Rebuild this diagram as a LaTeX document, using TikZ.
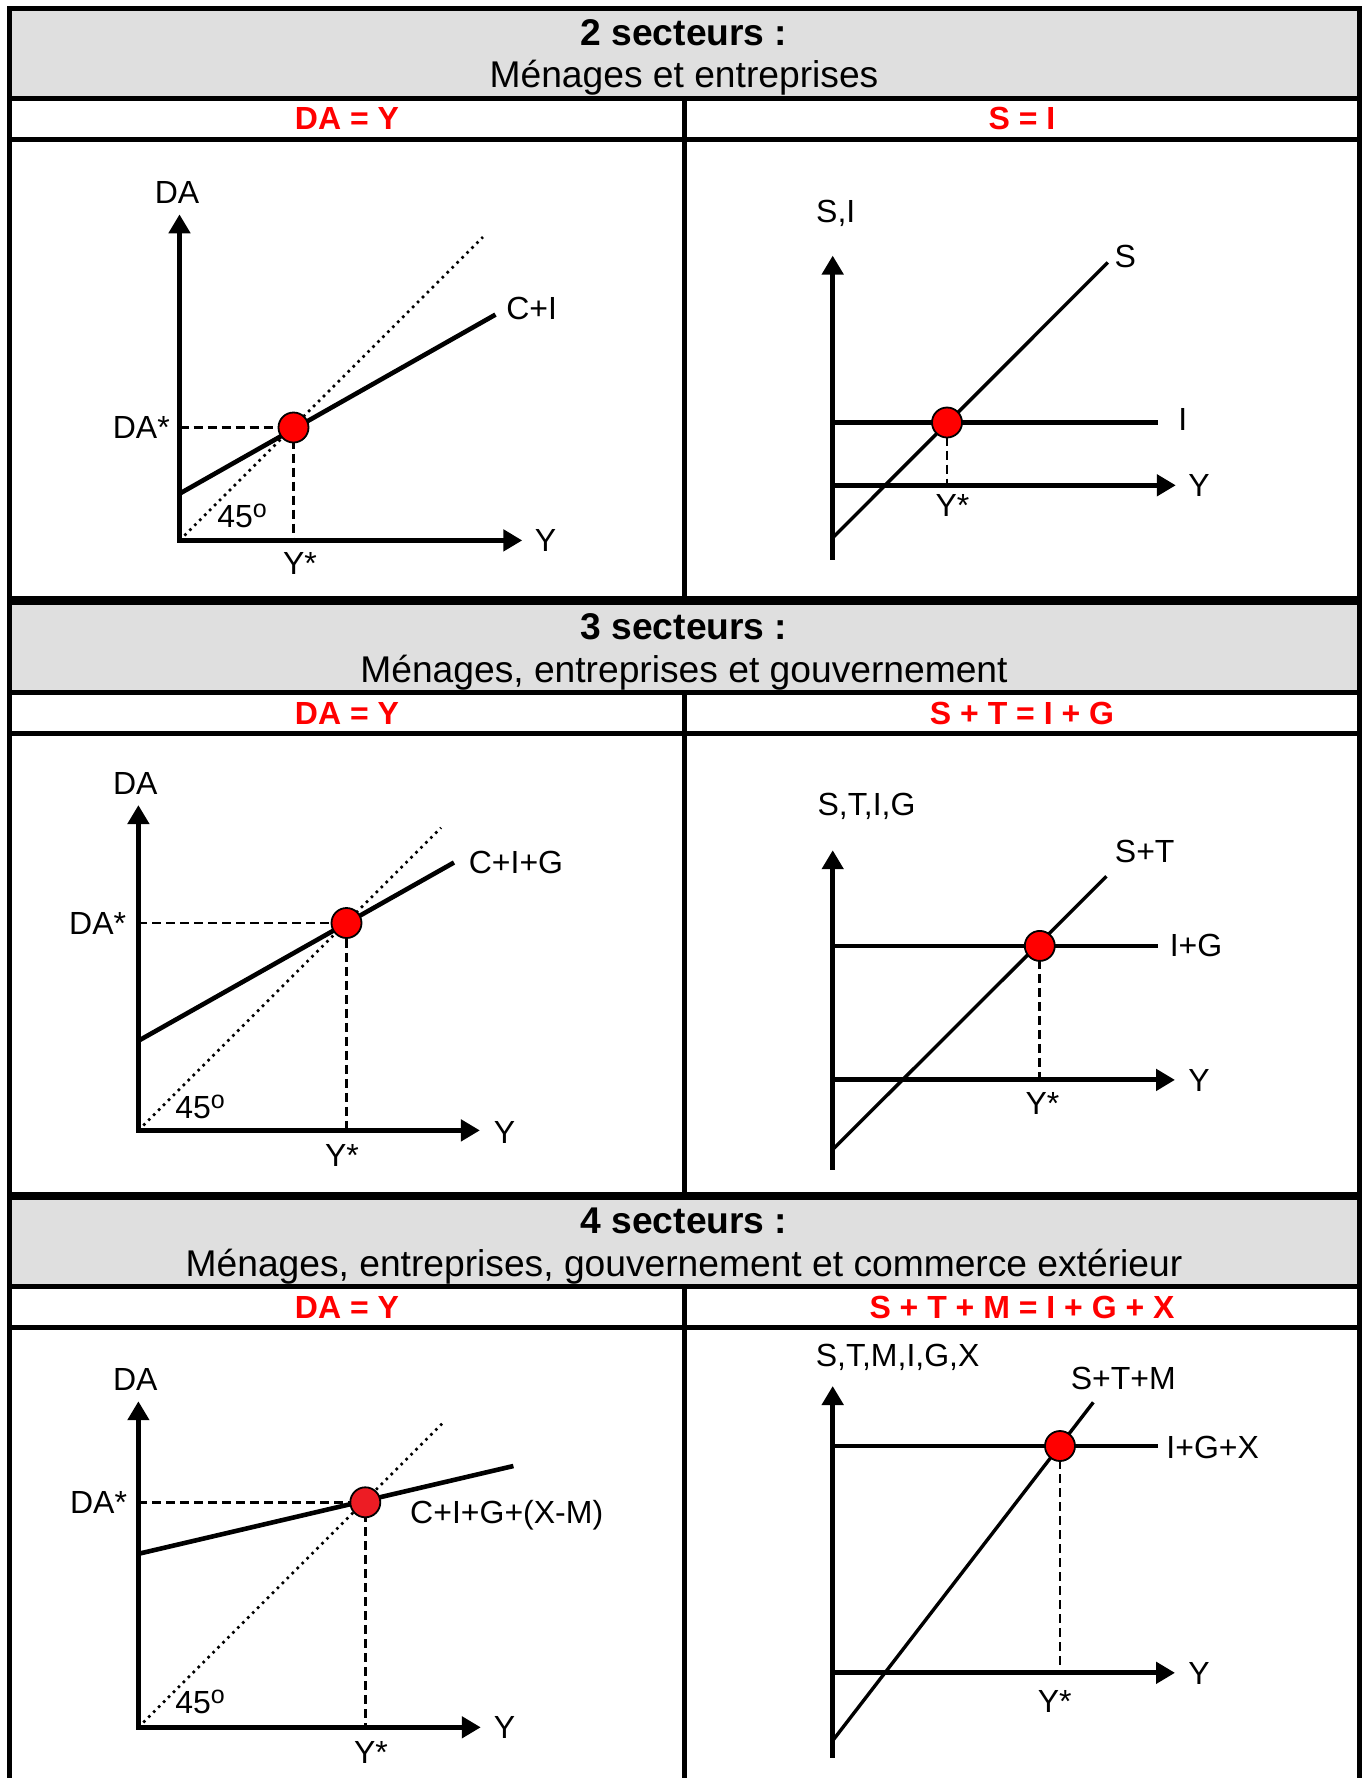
\documentclass[tikz,border=0pt]{standalone}
\usepackage{fontspec}
\setmainfont{Liberation Sans}
\usetikzlibrary{arrows.meta}
\definecolor{grisentete}{RGB}{223,223,223}
\definecolor{rougeeq}{RGB}{255,0,0}
\definecolor{rougept}{RGB}{237,28,36}
\newcommand{\degres}{45\raisebox{10pt}{\fontsize{25}{25}\selectfont o}}

\begin{document}
\begin{tikzpicture}[x=1pt,y=-1pt,>={Triangle[length=19pt,width=21pt]},
  every node/.style={inner sep=0pt,anchor=base,font=\fontsize{32}{38}\selectfont},
  entete/.style={font=\fontsize{37.2}{44}\selectfont},
  equation/.style={font=\fontsize{32}{38}\selectfont\bfseries,text=rougeeq},
  cadre/.style={line width=4.8pt},
  axe/.style={line width=5pt},
  courbe/.style={line width=4.6pt},
  epargne/.style={line width=3.4pt},
  repere/.style={line width=2.7pt,dash pattern=on 9pt off 5pt},
  bis/.style={line width=2.6pt,dash pattern=on 2.6pt off 4.4pt},
  point/.style={circle,draw,line width=1.8pt,fill=red,minimum size=30pt,anchor=center}]
  \useasboundingbox (0,0) rectangle (1368,1778);

  % en-tetes des trois tableaux
  \foreach \k/\haut/\gris/\bas/\titre/\sous/\eqd in {
    1/8.3/98.2/600.5/{2 secteurs :}/{Ménages et entreprises}/{S = I},
    2/600.5/692.8/1195.8/{3 secteurs :}/{Ménages, entreprises et gouvernement}/{S + T = I + G},
    3/1195.8/1286.5/1778/{4 secteurs :}/{Ménages, entreprises, gouvernement et commerce extérieur}/{S + T + M = I + G + X}}{
    \fill[grisentete] (9.3,\haut) rectangle (1359.7,\gris);
    \draw[cadre] (9.3,\gris) -- (1359.7,\gris);
    \draw[cadre] (9.3,\gris+41) -- (1359.7,\gris+41);
    \draw[cadre] (684.5,\gris) -- (684.5,\bas);
    \node[entete] (titre\k) at (684,\gris-53) {\bfseries \titre};
    \node[entete] (sous\k) at (684,\gris-10.5) {\sous};
    \node[equation] (eqg\k) at (347,\gris+31.5) {DA = Y};
    \node[equation] (eqd\k) at (1022,\gris+31.5) {\eqd};
  }
  \draw[line width=8.5pt] (9.3,600.5) -- (1359.7,600.5);
  \draw[line width=8.5pt] (9.3,1195.8) -- (1359.7,1195.8);
  \draw[cadre,line join=miter] (9.3,1778) -- (9.3,8.3) -- (1359.7,8.3) -- (1359.7,1778);

  % 2 secteurs : DA = Y
  \coordinate (o1) at (179.5,540.4);
  \coordinate (da1) at (179.5,214.3);
  \coordinate (y1) at (522.3,540.4);
  \coordinate (c1a) at (179.5,493.7);
  \coordinate (c1b) at (495.5,314.6);
  \coordinate (b1) at (483,237);
  \coordinate (e1) at (293.5,427.5);
  \coordinate (h1) at (179.5,427.5);
  \coordinate (v1) at (293.5,540.4);
  \draw[bis] (o1) -- (b1);
  \draw[repere] (h1) -- (e1) -- (v1);
  \draw[courbe] (c1a) -- (c1b);
  \draw[axe,<->] (y1) -- (o1) -- (da1);
  \node[point] (p1) at (e1) {};
  \node (lda1) at (177,203) {DA};
  \node (ly1) at (545.5,551) {Y};
  \node (lc1) at (531.7,319.6) {C+I};
  \node[anchor=base east] (lds1) at (170,438) {DA*};
  \node (lys1) at (300,574) {Y*};
  \node (lan1) at (242,527.4) {\degres};

  % 2 secteurs : S = I
  \coordinate (r1b) at (832.7,559.5);
  \coordinate (r1h) at (832.7,255.6);
  \coordinate (r1o) at (832.7,485.3);
  \coordinate (r1y) at (1175.8,485.3);
  \coordinate (i1a) at (832.7,422.5);
  \coordinate (i1b) at (1158.3,422.5);
  \coordinate (s1a) at (832.7,537.7);
  \coordinate (s1b) at (1107.8,262.5);
  \coordinate (e2) at (947,422.5);
  \coordinate (v2) at (947,485.3);
  \draw[repere] (e2) -- (v2);
  \draw[epargne] (s1a) -- (s1b);
  \draw[courbe] (i1a) -- (i1b);
  \draw[axe,->] (r1b) -- (r1h);
  \draw[axe,->] (r1o) -- (r1y);
  \node[point] (p2) at (e2) {};
  \node (lsi1) at (835.8,222) {S,I};
  \node (ls1) at (1125.4,267.9) {S};
  \node (li1) at (1182.9,430) {I};
  \node (lyr1) at (1199,496.4) {Y};
  \node (lysr1) at (952.5,516.6) {Y*};

  % 3 secteurs : DA = Y
  \coordinate (o2) at (138.4,1130.4);
  \coordinate (da2) at (138.4,805.1);
  \coordinate (y2) at (479.9,1130.4);
  \coordinate (c2a) at (138.4,1040.8);
  \coordinate (c2b) at (454,862.5);
  \coordinate (b2) at (441.1,827.7);
  \coordinate (e3) at (346.5,923);
  \coordinate (h2) at (138.4,923);
  \coordinate (v3) at (346.5,1130.4);
  \draw[bis] (o2) -- (b2);
  \draw[repere] (h2) -- (e3) -- (v3);
  \draw[courbe] (c2a) -- (c2b);
  \draw[axe,<->] (y2) -- (o2) -- (da2);
  \node[point] (p3) at (e3) {};
  \node (lda2) at (135.3,794.7) {DA};
  \node (ly2) at (504.5,1143) {Y};
  \node (lc2) at (516,873.2) {C+I+G};
  \node[anchor=base east] (lds2) at (126.3,934.4) {DA*};
  \node (lys2) at (342,1166) {Y*};
  \node (lan2) at (200,1118.1) {\degres};

  % 3 secteurs : S + T = I + G
  \coordinate (r2b) at (832.7,1169.8);
  \coordinate (r2h) at (832.7,850.2);
  \coordinate (r2o) at (832.7,1079.9);
  \coordinate (r2y) at (1175,1079.9);
  \coordinate (i2a) at (832.7,945.9);
  \coordinate (i2b) at (1158.3,945.9);
  \coordinate (s2a) at (832.7,1149.5);
  \coordinate (s2b) at (1106.5,876.3);
  \coordinate (e4) at (1039.8,945.9);
  \coordinate (v4) at (1039.8,1079.9);
  \draw[repere] (e4) -- (v4);
  \draw[epargne] (s2a) -- (s2b);
  \draw[courbe] (i2a) -- (i2b);
  \draw[axe,->] (r2b) -- (r2h);
  \draw[axe,->] (r2o) -- (r2y);
  \node[point] (p4) at (e4) {};
  \node (lsi2) at (866.5,815.8) {S,T,I,G};
  \node (ls2) at (1144.7,862.5) {S+T};
  \node (li2) at (1196,956.6) {I+G};
  \node (lyr2) at (1199,1091.3) {Y};
  \node (lysr2) at (1042.4,1114.3) {Y*};

  % 4 secteurs : DA = Y
  \coordinate (o3) at (138.4,1727.3);
  \coordinate (da3) at (138.4,1401.2);
  \coordinate (y3) at (480.8,1727.3);
  \coordinate (c3a) at (138.4,1553.8);
  \coordinate (c3b) at (513.4,1466);
  \coordinate (b3) at (442,1423.7);
  \coordinate (e5) at (365.3,1502.3);
  \coordinate (h3) at (138.4,1502.3);
  \coordinate (v5) at (365.3,1727.3);
  \draw[bis] (o3) -- (b3);
  \draw[repere] (h3) -- (e5) -- (v5);
  \draw[courbe] (c3a) -- (c3b);
  \draw[axe,<->] (y3) -- (o3) -- (da3);
  \node[point,fill=rougept] (p5) at (e5) {};
  \node (lda3) at (135.3,1390.5) {DA};
  \node (ly3) at (504.5,1738.7) {Y};
  \node (lc3) at (506.7,1523.2) {C+I+G+(X-M)};
  \node[anchor=base east] (lds3) at (127.2,1513.7) {DA*};
  \node (lys3) at (371,1763.5) {Y*};
  \node (lan3) at (200,1713.2) {\degres};

  % 4 secteurs : S + T + M = I + G + X
  \coordinate (r3b) at (832.7,1757.8);
  \coordinate (r3h) at (832.7,1386);
  \coordinate (r3o) at (832.7,1672.8);
  \coordinate (r3y) at (1175,1672.8);
  \coordinate (i3a) at (832.7,1445.8);
  \coordinate (i3b) at (1158.3,1445.8);
  \coordinate (s3a) at (832.7,1740.6);
  \coordinate (s3b) at (1093.3,1402.3);
  \coordinate (e6) at (1060,1446);
  \coordinate (v6) at (1060,1672.8);
  \draw[repere] (e6) -- (v6);
  \draw[epargne] (s3a) -- (s3b);
  \draw[courbe] (i3a) -- (i3b);
  \draw[axe,->] (r3b) -- (r3h);
  \draw[axe,->] (r3o) -- (r3y);
  \node[point] (p6) at (e6) {};
  \node (lsi3) at (897.6,1366.9) {S,T,M,I,G,X};
  \node (ls3) at (1123.2,1389.8) {S+T+M};
  \node (li3) at (1212.7,1458.4) {I+G+X};
  \node (lyr3) at (1199,1684.2) {Y};
  \node (lysr3) at (1054.7,1712) {Y*};
\end{tikzpicture}
\end{document}
